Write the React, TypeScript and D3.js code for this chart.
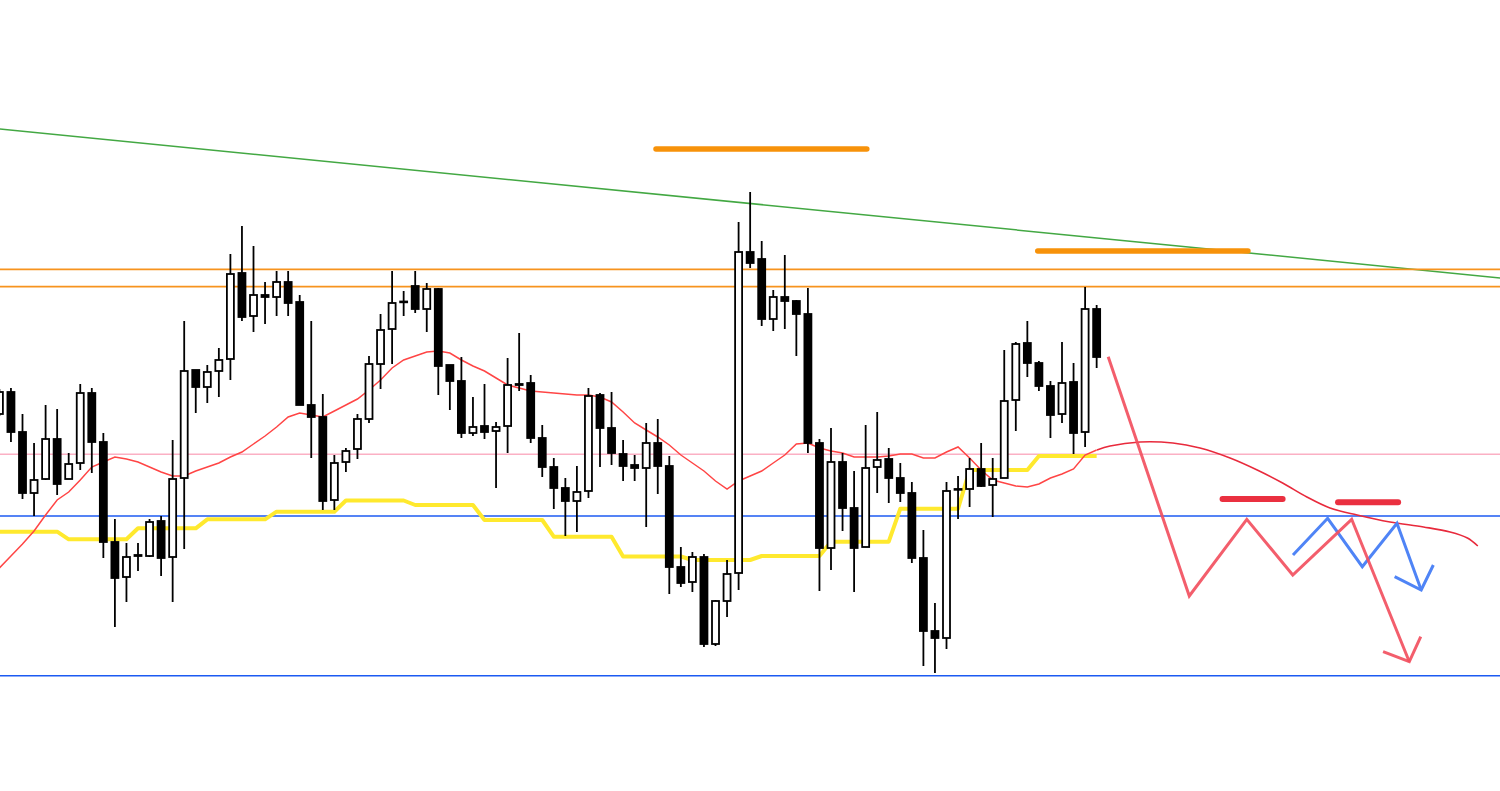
import React from "react";
import * as d3 from "d3";

// ---- Candle data (price units) ----
const OPEN = [377,399,359,298,312,352,312,328,398,349,249,214,235,235,270,234,313,421,404,420,432,518,475,496,494,509,489,386,374,291,329,342,372,427,462,489,505,482,502,426,410,358,365,360,365,407,408,353,324,303,290,300,396,363,337,326,323,348,325,224,209,234,147,190,218,539,532,472,494,490,477,348,243,329,283,244,324,332,313,298,233,160,153,301.5,302,322,306,313,391,448,428,405,377,409,359,482];
const HIGH = [402,403,377,348,386,382,338,407,403,358,272,248,248,272,275,351,470,421,426,443,537,565,545,509,520,520,496,470,397,336,343,377,435,477,520,500,520,508,503,426,434,394,407,369,433,458,416,366,333,313,325,403,398,399,351,336,368,372,335,244,239,237,191,231,569,599,550,501,536,491,503,352,363,338,320,366,379,343,328,309,261,188,309,315,333,348,333,441,449,470,430,410,449,428,504,486];
const LOW = [375,349,292,275,311,296,312,321,318,233,164,189,220,234,215,189,242,378,388,394,411,470,459,467,475,475,386,333,281,281,319,332,368,402,427,475,478,459,396,381,353,355,352,303,338,400,348,314,282,255,259,293,324,326,310,310,264,297,197,204,199,144,145,174,201,523,465,460,462,435,338,200,221,260,199,244,298,288,289,228,125,118,142,272,284,304,274,313,360,414,400,353,368,337,344,423];
const CLOSE = [399,359,298,311,352,307,327,398,349,249,213,234,236,269,233,312,420,404,419,431,517,474,496,494,509,488,386,374,290,328,340,372,427,461,488,489.5,482,502,425,410,358,364,359,364,406,406,353,324,303,290,299,395,363,338,325,323,348,325,224,208,234,147,190,217,539,528,472,494,490,477,348,243,329,283,243,323,331,313,298,233,160,153,300,302,322,305,312,390,447,428,405,376,408,358,482,434];

// moving average (red thin line), one value per candle
const MA = [223,235,247,260,276,291,299,311,324,329,334,332,329,324,319,315,315,320,324,328,334,339,347,355,364,374,378,376,374,380,386,392,401,411,423,431,435,439,440,438,431,425,420,413,406,403,400,399,398,397,396,396,394,389,379,368,361,354,346,336,328,320,310,302,310,315,320,328,336,347,348,343,340,338,334,334,334,335,337,337,333,333,339,344,333,321,311,308,305,304,307,313,317,322,336,341];

// yellow step line, one value per candle
const BASELINE = [
  259.3,259.3,259.3,259.3,259.3,259.3,
  251.7,251.7,251.7,251.7,251.7,251.7,
  262.7,262.7,262.7,262.7,262.7,262.7,
  271.7,271.7,271.7,271.7,271.7,271.7,
  279.3,279.3,279.3,279.3,279.3,279.3,
  290.5,290.5,290.5,290.5,290.5,290.5,
  286,286,286,286,286,286,
  271,271,271,271,271,271,
  254.3,254.3,254.3,254.3,254.3,254.3,
  234.5,234.5,234.5,234.5,234.5,234.5,
  231,231,231,231,231,231,
  235,235,235,235,235,235,
  249.3,249.3,249.3,249.3,249.3,249.3,
  282.3,282.3,282.3,282.3,282.3,282.3,
  321,321,321,321,321,321,
  335,335,335,335,335,335,
];

// horizontal levels
const ORANGE_LEVELS = [521.7, 504.3];
const PINK_LEVEL = 336.7;
const BLUE_LEVELS = [275, 115.3];

// green trendline [index, price]
const TRENDLINE: [number, number][] = [[0, 662], [130, 513]];

// thick orange zones [startIndex, endIndex, price]
const ORANGE_ZONES: [number, number, number][] = [[56.85, 75.1, 642], [89.9, 108.1, 540]];

// projected MA curve [index, price]
const PROJ_CURVE: [number, number][] = [[95.03,341],[96.16,345],[98.75,349],[101.6,348],[103.95,343],[106.55,333],[108.9,321],[111.1,308],[113.2,294],[115.2,283],[117.55,276],[120.4,269],[123.3,264],[125.6,259],[127.1,253],[128.0,245]];

// red scenario zigzag [index, price]
const RED_PATH: [number, number][] = [[96.0,434.3],[103.02,195],[108.0,271.7],[111.98,216],[117.08,271.7],[122.07,129.3]];
const RED_ARROW: [number, number][] = [[119.8,139.3],[122.07,129.3],[123.06,154.3]];
// blue scenario zigzag
const BLUE_PATH: [number, number][] = [[112.0,236],[115.0,272.7],[118.0,224.3],[121.0,267.7],[123.1,201]];
const BLUE_ARROW: [number, number][] = [[120.8,214.3],[123.1,201],[124.15,226]];
// red short resistance marks [startIndex, endIndex, price]
const RED_MARKS: [number, number, number][] = [[105.9, 111.1, 292], [115.9, 121.1, 288.7]];

const W = 1500;
const H = 791;

export default function App() {
  if (typeof document !== "undefined") document.body.style.margin = "0";
  const x = d3.scaleLinear().domain([0, 130]).range([-0.6, 1500.9]);
  const y = d3.scaleLinear().domain([0, 791]).range([791, 0]);

  const idx = d3.range(OPEN.length);
  const line = d3.line<[number, number]>().x((d) => x(d[0])).y((d) => y(d[1]));
  const smooth = d3.line<[number, number]>().x((d) => x(d[0])).y((d) => y(d[1])).curve(d3.curveCatmullRom);

  const maPts = idx.map((i) => [i, MA[i]] as [number, number]);
  const basePts = idx.map((i) => [i, BASELINE[i]] as [number, number]);

  const bodyW = 7;

  return (
    <svg width={W} height={H} style={{ position: "absolute", left: 0, top: 0, background: "#fff", display: "block" }}>
      <rect x={0} y={0} width={W} height={H} fill="#fff" />
      {/* trendline */}
      <path d={line(TRENDLINE) || ""} stroke="#43a843" strokeWidth={1.5} fill="none" />
      {/* horizontal levels */}
      {ORANGE_LEVELS.map((v, k) => (
        <line key={"o" + k} x1={0} x2={W} y1={y(v)} y2={y(v)} stroke="#f7931e" strokeWidth={1.8} />
      ))}
      <line x1={0} x2={W} y1={y(PINK_LEVEL)} y2={y(PINK_LEVEL)} stroke="#fbb0c4" strokeWidth={1.5} />
      {BLUE_LEVELS.map((v, k) => (
        <line key={"b" + k} x1={0} x2={W} y1={y(v)} y2={y(v)} stroke="#1c5af2" strokeWidth={1.6} />
      ))}
      {/* yellow line */}
      <path d={line(basePts) || ""} stroke="#ffe92e" strokeWidth={4} fill="none" strokeLinejoin="round" />
      {/* MA */}
      <path d={line(maPts) || ""} stroke="#ff4545" strokeWidth={1.5} fill="none" />
      {/* candles */}
      {idx.map((i) => {
        const up = CLOSE[i] >= OPEN[i];
        const top = y(Math.max(OPEN[i], CLOSE[i]));
        const bot = y(Math.min(OPEN[i], CLOSE[i]));
        const cx = x(i);
        return (
          <g key={i}>
            <line x1={cx} x2={cx} y1={y(HIGH[i])} y2={y(LOW[i])} stroke="#000" strokeWidth={1.8} />
            <rect
              x={cx - bodyW / 2}
              y={top}
              width={bodyW}
              height={Math.max(bot - top, 0.8)}
              fill={up ? "#fff" : "#000"}
              stroke="#000"
              strokeWidth={1.8}
            />
          </g>
        );
      })}
      {/* thick orange zones */}
      {ORANGE_ZONES.map((z, k) => (
        <line key={"z" + k} x1={x(z[0])} x2={x(z[1])} y1={y(z[2])} y2={y(z[2])} stroke="#f7920a" strokeWidth={5.5} strokeLinecap="round" />
      ))}
      {/* projected curve */}
      <path d={smooth(PROJ_CURVE) || ""} stroke="#e82a3c" strokeWidth={1.6} fill="none" />
      {/* scenario zigzags */}
      <path d={line(BLUE_PATH) || ""} stroke="#4f84f6" strokeWidth={3} fill="none" strokeLinejoin="miter" />
      <path d={line(BLUE_ARROW) || ""} stroke="#4f84f6" strokeWidth={3} fill="none" />
      <path d={line(RED_PATH) || ""} stroke="#f2505f" strokeOpacity={0.92} strokeWidth={3} fill="none" />
      <path d={line(RED_ARROW) || ""} stroke="#f2505f" strokeOpacity={0.92} strokeWidth={3} fill="none" />
      {RED_MARKS.map((m, k) => (
        <line key={"m" + k} x1={x(m[0])} x2={x(m[1])} y1={y(m[2])} y2={y(m[2])} stroke="#ea3040" strokeWidth={6} strokeLinecap="round" />
      ))}
    </svg>
  );
}
